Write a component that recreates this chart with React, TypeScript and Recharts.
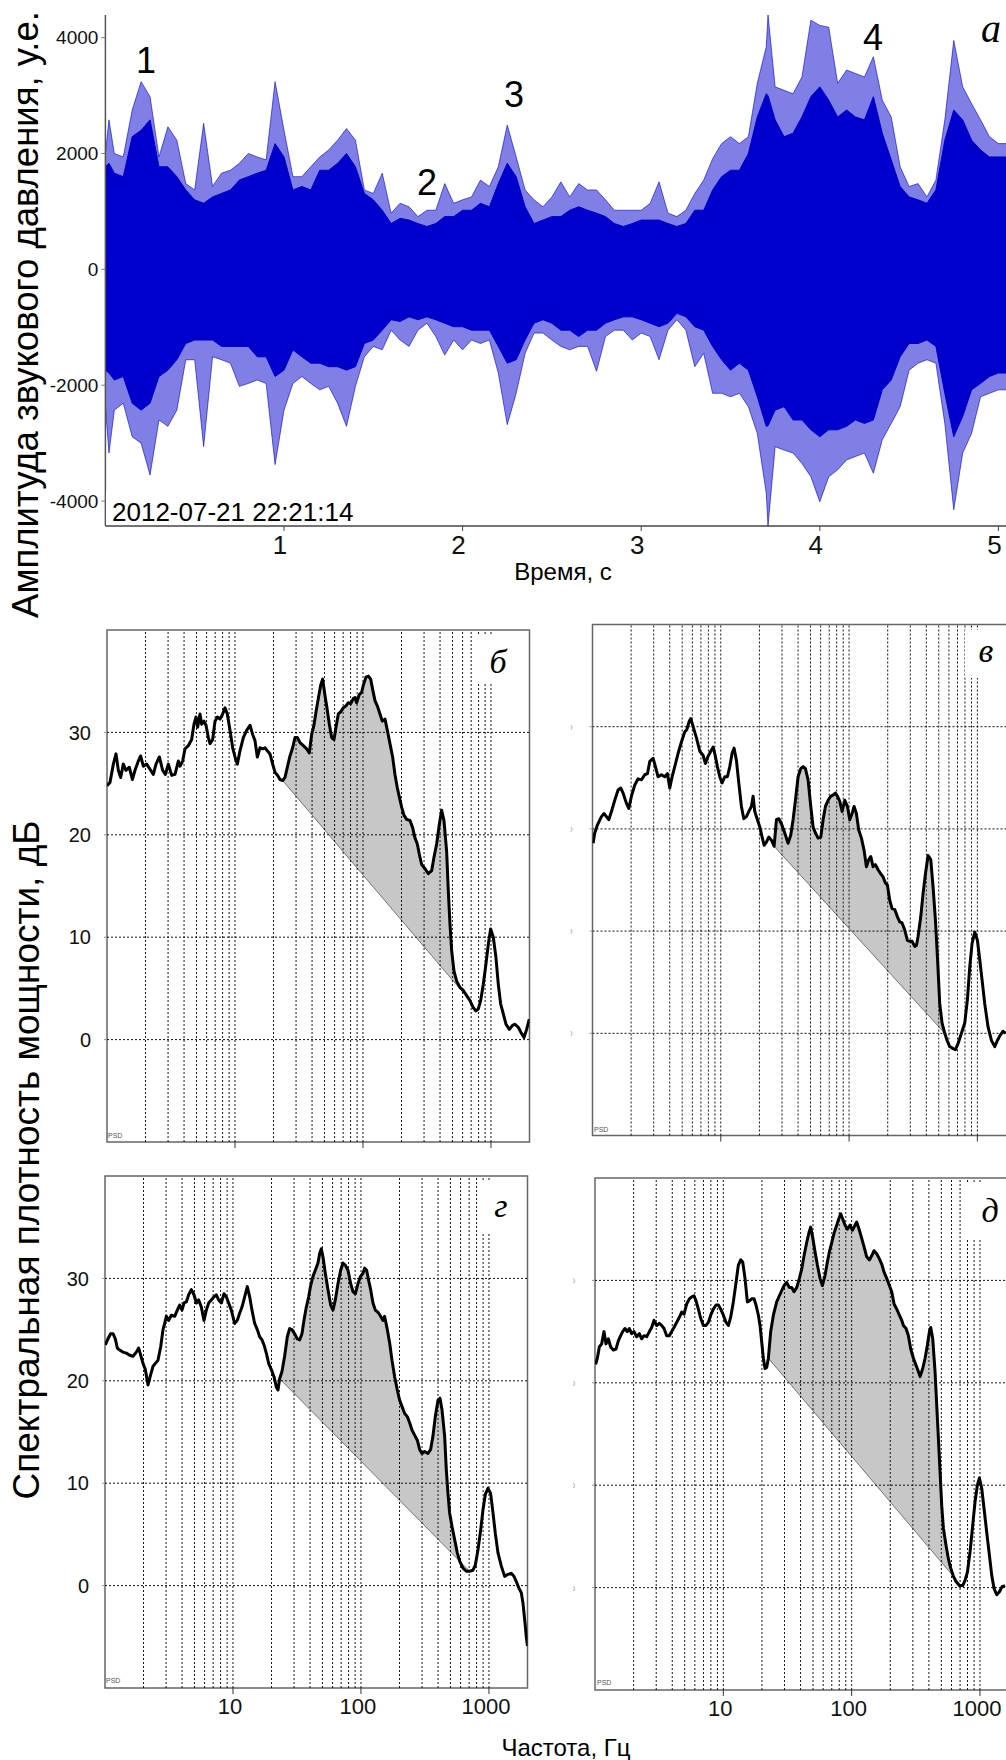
import React from 'react';
import { ComposedChart, Area, Line, XAxis, YAxis, ReferenceLine, ReferenceArea } from 'recharts';

// ---------- Panel а: waveform envelope (time, s) ----------
const timeS = [
  0, 0.02, 0.05, 0.1, 0.15, 0.2, 0.25, 0.3, 0.35, 0.4,
  0.45, 0.5, 0.55, 0.6, 0.65, 0.7, 0.75, 0.8, 0.85, 0.9,
  0.95, 1.0, 1.05, 1.1, 1.15, 1.2, 1.25, 1.3, 1.35, 1.4,
  1.45, 1.5, 1.55, 1.6, 1.65, 1.7, 1.75, 1.8, 1.85, 1.9,
  1.95, 2.0, 2.05, 2.1, 2.15, 2.2, 2.25, 2.3, 2.35, 2.4,
  2.45, 2.5, 2.55, 2.6, 2.65, 2.7, 2.75, 2.8, 2.85, 2.9,
  2.95, 3.0, 3.05, 3.1, 3.15, 3.2, 3.25, 3.3, 3.35, 3.4,
  3.45, 3.5, 3.55, 3.6, 3.65, 3.7, 3.71, 3.75, 3.8, 3.85,
  3.9, 3.95, 4.0, 4.05, 4.1, 4.15, 4.2, 4.25, 4.3, 4.35,
  4.4, 4.45, 4.5, 4.55, 4.6, 4.65, 4.7, 4.75, 4.8, 4.85,
  4.9, 4.95, 5.0, 5.05,
];
const spikeHigh = [
  2000, 2580, 2000, 1940, 2750, 3240, 2980, 1940, 2460, 2230,
  1480, 1370, 2520, 1430, 1660, 1710, 1830, 2000, 1940, 1890,
  3240, 2400, 1600, 1600, 1770, 1940, 2060, 2230, 2430, 2230,
  1370, 1310, 1660, 970, 1140, 1080, 910, 1020, 1020, 1480,
  1140, 1200, 1250, 1540, 1430, 1770, 2490, 1940, 1370, 1200,
  1080, 1250, 1510, 1250, 1480, 1370, 1370, 1200, 1020, 1020,
  1020, 1020, 1140, 1510, 970, 910, 1020, 1310, 1540, 1910,
  2170, 2290, 2170, 2290, 3210, 3840, 4390, 3150, 3090, 3030,
  3320, 4300, 4210, 4180, 3210, 3440, 3380, 3320, 3670, 2920,
  2630, 1770, 1430, 1480, 1250, 1540, 2580, 3950, 3150, 2860,
  2580, 2290, 2170, 2170,
];
const coreHigh = [
  1770, 1830, 1660, 1600, 2290, 2400, 2580, 1770, 1770, 1600,
  1370, 1200, 1140, 1250, 1310, 1370, 1540, 1600, 1660, 1710,
  2170, 1940, 1370, 1430, 1370, 1710, 1710, 1830, 2000, 1770,
  1310, 1200, 1020, 790, 880, 850, 790, 740, 790, 910,
  910, 1020, 1020, 1140, 1080, 1480, 1830, 1600, 1080, 790,
  850, 910, 910, 1020, 1080, 1020, 970, 910, 790, 740,
  790, 850, 850, 850, 790, 740, 790, 1020, 1020, 1370,
  1600, 1710, 1710, 2000, 2630, 3030, 3000, 2580, 2290, 2350,
  2630, 2980, 3150, 2920, 2630, 2750, 2630, 2580, 2980, 2350,
  1890, 1430, 1250, 1200, 1140, 1370, 2230, 2750, 2580, 2230,
  2060, 1940, 1940, 1940,
];
const coreLow = [
  -1740, -1790, -1910, -1850, -2310, -2430, -2310, -1850, -1740, -1560,
  -1280, -1220, -1220, -1220, -1330, -1330, -1330, -1330, -1510, -1510,
  -1850, -1740, -1390, -1510, -1620, -1620, -1680, -1680, -1740, -1680,
  -1280, -1220, -1050, -870, -900, -820, -870, -820, -870, -930,
  -990, -990, -1050, -1050, -1050, -1330, -1620, -1560, -1220, -930,
  -870, -930, -1050, -1050, -1160, -1050, -1050, -930, -870, -820,
  -820, -870, -930, -990, -930, -760, -820, -990, -1050, -1330,
  -1560, -1740, -1620, -1740, -2200, -2710, -2700, -2430, -2370, -2600,
  -2600, -2770, -2890, -2770, -2770, -2710, -2600, -2660, -2600, -2080,
  -1910, -1510, -1280, -1280, -1220, -1330, -2140, -2890, -2540, -2080,
  -1970, -1850, -1790, -1790,
];
const spikeLow = [
  -2370, -3170, -2430, -2310, -2890, -3000, -3550, -2600, -2710, -2430,
  -1560, -1560, -3060, -1510, -1560, -1620, -2020, -1970, -1910, -1970,
  -3370, -2430, -1970, -1850, -1970, -2080, -2020, -2310, -2710, -2020,
  -1510, -1330, -1390, -1050, -1220, -1330, -1050, -930, -1160, -1480,
  -1220, -1390, -1220, -1280, -1220, -1790, -2680, -2140, -1450, -1100,
  -1100, -1220, -1330, -1390, -1330, -1330, -1760, -1160, -1050, -1050,
  -1220, -1100, -1160, -1560, -1050, -870, -1050, -1680, -1450, -2140,
  -2140, -2200, -2140, -2370, -2830, -3860, -4430, -3060, -3120, -3170,
  -3350, -3580, -4010, -3580, -3460, -3290, -3230, -3170, -3520, -2940,
  -2660, -2370, -1740, -1620, -1560, -1620, -2660, -4150, -3170, -2830,
  -2200, -2140, -2080, -2080,
];
const timeTicks = [1, 2, 3, 4, 5];
const ampTicks = [-4000, -2000, 0, 2000, 4000];

// ---------- PSD panels (frequency Hz, dB) ----------
const freqB = [
  1.0, 1.055, 1.121, 1.176, 1.226, 1.279, 1.341, 1.407, 1.494, 1.578,
  1.655, 1.757, 1.832, 1.922, 2.041, 2.168, 2.301, 2.415, 2.564, 2.722,
  2.856, 3.015, 3.2, 3.399, 3.608, 3.718, 3.901, 4.069, 4.319, 4.586,
  4.783, 4.958, 5.108, 5.328, 5.49, 5.725, 5.935, 6.19, 6.378, 6.69,
  6.98, 7.28, 7.64, 8.01, 8.35, 8.71, 9.14, 9.59, 10.0, 10.43,
  10.94, 11.62, 12.34, 13.1, 13.74, 14.33, 14.95, 15.68, 16.45, 17.16,
  17.89, 18.77, 19.7, 20.54, 21.54, 22.47, 23.58, 24.59, 25.64, 26.9,
  28.21, 29.43, 30.69, 32.19, 34.19, 36.31, 38.08, 39.72, 41.42, 42.94,
  44.77, 46.7, 48.41, 50.48, 52.02, 54.58, 56.92, 59.35, 61.53, 64.17,
  66.92, 70.2, 73.7, 76.8, 80.1, 84.0, 86.6, 89.2, 93.6, 97.6,
  100.6, 105.5, 110.1, 114.8, 119.0, 124.1, 129.4, 135.8, 141.6, 148.6,
  155.0, 162.5, 170.5, 177.8, 185.4, 192.2, 200.5, 209.1, 219.4, 232.9,
  244.3, 254.8, 265.7, 275.5, 287.3, 305.1, 324.0, 344.0, 358.7, 376.3,
  394.8, 411.7, 429.3, 450.4, 464.2, 478.3, 492.8, 513.9, 539.2, 572.5,
  608.0, 645.6, 685.5, 727.8, 763.5, 796.2, 830.5, 871.0, 913.9, 953.3,
  994, 1043, 1094, 1141, 1190, 1249, 1310, 1391, 1477, 1540,
  1635, 1716, 1811, 1900, 1993,
];
const dbB = [
  24.8, 25.1, 26.9, 27.9, 26.3, 25.6, 26.9, 26.3, 26.6, 25.4,
  26.3, 27.2, 27.7, 26.7, 26.9, 26.4, 25.9, 26.9, 27.6, 26.3,
  25.9, 26.9, 25.8, 25.9, 27.2, 26.7, 27.2, 28.4, 28.7, 29.3,
  30.8, 31.5, 30.5, 31.8, 30.8, 31.1, 30.7, 29.5, 28.9, 29.3,
  31.1, 31.5, 31.3, 31.8, 32.4, 31.8, 30.2, 28.5, 27.6, 26.9,
  28.2, 29.5, 30.2, 30.7, 29.8, 29.2, 27.6, 28.5, 28.4, 28.5,
  28.2, 27.9, 26.9, 26.1, 25.8, 25.4, 25.3, 25.6, 26.6, 27.7,
  28.5, 29.5, 29.5, 29.0, 28.7, 28.4, 28.0, 29.8, 30.7, 32.0,
  33.3, 34.6, 35.2, 33.6, 32.6, 30.8, 29.5, 29.3, 30.5, 31.8,
  32.0, 32.4, 32.6, 32.9, 32.8, 33.3, 33.4, 32.9, 33.7, 33.9,
  34.6, 35.4, 35.5, 35.2, 34.2, 33.1, 32.6, 31.8, 31.1, 31.3,
  30.2, 28.9, 27.6, 25.9, 24.6, 23.7, 22.7, 21.9, 21.5, 21.4,
  20.7, 19.7, 19.1, 18.1, 17.1, 16.7, 16.2, 16.5, 17.8, 19.1,
  21.0, 22.4, 21.4, 18.4, 14.5, 11.3, 8.7, 6.7, 5.7, 5.1,
  4.8, 4.3, 3.8, 3.1, 2.8, 3.0, 3.8, 5.4, 7.4, 9.3,
  10.8, 10.0, 8.0, 5.4, 3.5, 2.5, 1.5, 1.0, 1.4, 1.5,
  1.2, 0.7, 0.2, 1.0, 2.0,
];
const freqV = [
  1.011, 1.041, 1.093, 1.174, 1.231, 1.284, 1.339, 1.405, 1.491, 1.583,
  1.661, 1.732, 1.839, 1.918, 2.012, 2.136, 2.267, 2.406, 2.555, 2.681,
  2.796, 2.968, 3.094, 3.245, 3.445, 3.659, 3.838, 4.003, 4.173, 4.377,
  4.648, 4.934, 5.239, 5.43, 5.663, 5.835, 6.085, 6.459, 6.857, 7.28,
  7.59, 7.96, 8.35, 8.71, 8.97, 9.41, 9.82, 10.24, 10.74, 11.26,
  11.75, 12.25, 12.7, 13.24, 13.81, 14.48, 15.11, 15.84, 16.52, 17.34,
  17.86, 18.4, 19.3, 20.13, 20.99, 21.76, 22.69, 23.66, 24.82, 26.03,
  27.15, 28.3, 29.7, 31.52, 33.46, 35.11, 36.61, 38.18, 40.05, 42.02,
  43.81, 45.68, 47.92, 50.27, 52.42, 54.68, 57.36, 60.17, 62.73, 65.41,
  68.62, 71.98, 75.07, 78.28, 81.13, 84.6, 88.22, 92.54, 97.1, 101.2,
  105.5, 109.4, 114.0, 118.9, 124.8, 130.9, 136.5, 142.3, 147.6, 153.8,
  160.4, 168.3, 176.6, 184.1, 192.0, 199.0, 207.5, 216.4, 227.0, 238.1,
  248.3, 258.9, 271.6, 284.9, 297.1, 309.8, 325.0, 334.9, 345.1, 361.9,
  377.4, 393.6, 412.9, 433.1, 451.6, 470.9, 488.1, 508.9, 530.7, 556.7,
  584.0, 609.0, 646.5, 674.3, 707.4, 750.9, 797.1, 836.2, 872.0, 909.4,
  954.1, 1000.7, 1043.5, 1088, 1141, 1212, 1287, 1366, 1433, 1503,
  1587, 1655,
];
const dbV = [
  18.6, 19.6, 20.4, 21.2, 21.5, 21.2, 20.9, 21.7, 22.8, 23.8,
  24.0, 23.5, 22.5, 22.0, 23.2, 24.3, 24.9, 24.8, 25.3, 25.4,
  26.6, 26.9, 26.1, 25.1, 25.3, 25.1, 25.4, 24.0, 25.1, 26.1,
  27.4, 28.5, 29.5, 29.7, 30.5, 30.8, 30.0, 28.9, 27.6, 27.2,
  26.4, 27.1, 27.6, 28.0, 27.4, 26.1, 25.1, 24.5, 25.1, 25.1,
  26.1, 27.4, 27.9, 26.7, 24.5, 22.2, 21.0, 21.2, 21.7, 22.2,
  23.2, 21.7, 20.9, 20.2, 19.2, 18.4, 18.7, 19.2, 18.9, 18.3,
  20.9, 21.0, 20.5, 19.6, 18.6, 19.4, 20.9, 22.8, 25.1, 25.9,
  26.1, 25.9, 24.8, 22.2, 20.2, 19.6, 19.1, 19.2, 20.9, 22.2,
  22.8, 23.2, 23.3, 23.5, 23.2, 22.7, 21.7, 22.8, 22.2, 20.9,
  21.5, 22.2, 21.5, 19.9, 19.1, 17.9, 16.3, 17.0, 17.3, 16.3,
  16.5, 16.0, 15.6, 15.3, 14.7, 14.5, 13.0, 12.2, 12.1, 11.4,
  10.9, 10.8, 10.1, 9.1, 9.0, 9.0, 8.5, 8.6, 9.5, 11.4,
  13.7, 15.6, 17.4, 17.0, 14.3, 11.1, 7.5, 2.9, 1.0, 0.0,
  -0.8, -1.3, -1.5, -1.6, -1.0, 0.0, 1.0, 3.3, 6.5, 8.8,
  9.9, 9.1, 7.2, 5.2, 2.9, 0.6, -0.7, -1.3, -0.7, -0.2,
  0.2, 0.0,
];
const freqG = [
  1.006, 1.055, 1.107, 1.155, 1.204, 1.248, 1.302, 1.382, 1.468, 1.559,
  1.655, 1.757, 1.832, 1.899, 1.981, 2.066, 2.168, 2.275, 2.371, 2.473,
  2.594, 2.722, 2.839, 2.925, 3.015, 3.144, 3.298, 3.502, 3.674, 3.831,
  3.996, 4.142, 4.319, 4.505, 4.726, 4.958, 5.171, 5.393, 5.657, 5.935,
  6.19, 6.455, 6.772, 7.105, 7.409, 7.727, 8.106, 8.504, 8.869, 9.25,
  9.705, 10.3, 10.81, 11.27, 11.76, 12.34, 12.94, 13.5, 14.07, 14.77,
  15.49, 16.16, 16.85, 17.47, 18.21, 19.0, 19.93, 20.91, 21.81, 22.47,
  23.15, 24.14, 25.32, 26.57, 27.71, 28.9, 30.32, 31.8, 33.17, 34.6,
  35.86, 37.41, 39.01, 40.45, 42.17, 43.98, 46.14, 47.54, 48.98, 50.48,
  52.64, 55.24, 57.94, 60.42, 63.03, 66.13, 69.37, 72.34, 75.44, 79.14,
  83.04, 86.6, 90.31, 94.76, 99.4, 103.66, 106.8, 110.7, 114.8, 119.0,
  124.1, 129.4, 135.8, 142.4, 148.6, 153.0, 160.6, 167.5, 174.7, 183.2,
  192.2, 200.5, 209.1, 219.4, 230.1, 240.0, 250.3, 262.6, 275.5, 287.3,
  299.6, 314.3, 333.7, 350.1, 365.1, 380.8, 399.6, 414.2, 429.3, 450.4,
  464.2, 478.3, 492.8, 513.9, 539.2, 565.7, 590.0, 626.6, 665.3, 706.3,
  749.9, 782.0, 820.5, 860.9, 897.8, 936.3, 982.2, 1030, 1075, 1121,
  1176, 1249, 1326, 1407, 1494, 1568, 1635, 1706, 1789, 1843,
  1900, 1958, 2000,
];
const dbG = [
  23.5, 24.1, 24.6, 24.6, 24.1, 23.2, 23.0, 22.8, 22.7, 22.5,
  22.4, 22.8, 23.2, 22.5, 21.7, 21.1, 19.6, 20.6, 21.4, 21.7,
  22.0, 23.3, 25.0, 25.6, 26.3, 25.9, 26.4, 26.3, 26.9, 27.4,
  26.9, 27.6, 27.7, 28.4, 28.9, 28.4, 27.6, 27.9, 27.2, 25.9,
  26.9, 27.6, 27.9, 28.2, 28.4, 27.9, 27.6, 28.5, 28.2, 27.6,
  26.9, 25.6, 25.9, 26.6, 27.2, 28.2, 29.2, 28.2, 26.9, 25.6,
  25.0, 24.3, 24.0, 23.5, 22.7, 21.7, 21.1, 20.4, 19.4, 19.1,
  20.2, 20.9, 22.4, 24.3, 25.1, 25.0, 24.6, 24.1, 24.0, 24.6,
  25.9, 27.2, 28.2, 29.3, 30.2, 30.8, 31.5, 32.4, 32.9, 32.1,
  30.5, 28.9, 27.4, 26.9, 27.9, 29.5, 30.8, 31.5, 31.3, 30.8,
  29.5, 28.7, 28.5, 29.5, 30.2, 30.5, 31.0, 30.8, 29.8, 28.9,
  27.6, 26.9, 26.7, 26.3, 25.9, 26.3, 25.0, 23.7, 22.0, 20.4,
  19.1, 18.1, 17.5, 16.8, 16.5, 15.9, 15.2, 14.7, 14.2, 13.3,
  12.9, 13.1, 12.9, 13.3, 14.6, 16.5, 18.1, 18.3, 17.2, 14.6,
  11.3, 9.0, 7.1, 5.8, 4.5, 3.2, 2.4, 1.7, 1.4, 1.4,
  1.5, 2.0, 3.5, 5.4, 7.4, 8.9, 9.5, 9.0, 7.1, 5.1,
  3.2, 1.9, 0.9, 1.1, 1.2, 0.9, 0.4, -0.2, -0.7, -1.7,
  -3.3, -5.0, -5.9,
];
const freqD = [
  1.012, 1.043, 1.081, 1.127, 1.175, 1.218, 1.27, 1.325, 1.39, 1.458,
  1.52, 1.585, 1.643, 1.713, 1.786, 1.852, 1.931, 2.014, 2.112, 2.216,
  2.311, 2.41, 2.527, 2.652, 2.765, 2.884, 3.025, 3.173, 3.308, 3.45,
  3.619, 3.796, 3.958, 4.128, 4.331, 4.543, 4.738, 4.94, 5.182, 5.437,
  5.668, 5.911, 6.127, 6.39, 6.664, 6.991, 7.334, 7.647, 7.974, 8.365,
  8.775, 9.148, 9.539, 10.01, 10.5, 10.95, 11.41, 11.97, 12.56, 13.1,
  13.66, 14.16, 14.76, 15.39, 15.96, 16.64, 17.35, 17.98, 18.76, 19.32,
  19.91, 20.51, 21.13, 21.78, 22.44, 23.4, 24.55, 26.06, 27.34, 28.51,
  29.73, 31.19, 32.72, 34.12, 35.57, 37.32, 39.15, 40.81, 42.56, 44.65,
  46.56, 47.97, 49.73, 51.85, 54.07, 56.72, 59.14, 62.04, 64.7, 67.07,
  69.93, 72.92, 76.49, 79.29, 82.18, 85.19, 88.83, 92.62, 97.17, 101.3,
  106.3, 109.5, 114.9, 119.8, 124.9, 131.0, 137.5, 143.3, 149.5, 156.8,
  164.5, 171.5, 178.9, 187.6, 196.8, 205.3, 214.1, 224.6, 235.5, 245.6,
  253.1, 265.5, 276.9, 288.7, 302.9, 317.7, 331.3, 341.4, 358.1, 373.4,
  389.4, 403.6, 413.4, 428.5, 446.7, 460.3, 474.3, 488.7, 503.5, 518.8,
  544.2, 567.5, 591.8, 620.8, 651.2, 691.3, 733.9, 765.3, 798.0, 837.1,
  878.1, 915.7, 955.0, 989.9, 1032, 1076, 1129, 1184, 1235, 1288,
  1351, 1418, 1487, 1569,
];
const dbD = [
  21.8, 22.4, 23.5, 23.8, 25.0, 23.8, 24.3, 23.5, 23.2, 23.3,
  24.1, 24.6, 25.0, 25.3, 25.0, 25.3, 24.8, 25.0, 24.5, 24.8,
  24.3, 24.6, 24.5, 25.0, 25.4, 26.1, 25.6, 25.8, 25.6, 25.3,
  24.6, 24.6, 25.0, 25.4, 25.9, 26.4, 26.9, 26.7, 27.7, 28.2,
  28.4, 28.5, 28.0, 27.2, 26.3, 25.6, 25.6, 25.9, 26.6, 27.2,
  27.6, 27.6, 27.2, 26.6, 25.9, 25.6, 26.4, 27.9, 29.8, 31.5,
  32.0, 31.8, 30.2, 27.9, 28.0, 28.2, 28.2, 27.6, 26.6, 25.6,
  24.0, 22.4, 21.4, 21.5, 22.4, 25.0, 26.6, 27.9, 28.5, 29.0,
  29.5, 29.8, 29.3, 29.3, 28.9, 29.3, 30.2, 31.1, 32.4, 33.7,
  34.7, 35.2, 34.2, 32.8, 31.5, 30.2, 29.5, 30.5, 31.8, 32.8,
  33.7, 34.6, 35.4, 36.0, 36.5, 36.0, 35.4, 35.0, 35.4, 34.9,
  35.4, 35.7, 34.9, 34.1, 33.3, 32.3, 32.0, 32.4, 32.9, 32.6,
  32.1, 31.6, 30.8, 30.2, 29.5, 28.9, 27.7, 27.2, 26.6, 26.1,
  25.6, 25.3, 24.6, 23.3, 22.4, 21.7, 21.1, 20.6, 21.4, 22.4,
  23.7, 25.0, 25.4, 24.3, 21.1, 17.8, 14.6, 11.3, 8.0, 5.8,
  4.1, 2.8, 1.9, 1.1, 0.6, 0.2, 0.2, 0.7, 1.5, 3.5,
  6.1, 8.4, 10.0, 10.7, 9.7, 7.7, 5.4, 3.2, 1.2, -0.1,
  -0.7, -0.4, 0.1, 0.2,
];
// chord end points (Hz) of the shaded region, taken on each curve
const chordB = [23.58, 685.5];
const chordV = [26.03, 556.7];
const chordG = [23.15, 706.3];
const chordD = [22.44, 620.8];

const freqTicks = [10, 100, 1000];
const dbTicks = [0, 10, 20, 30];
const freqGrid = [2, 3, 4, 5, 6, 7, 8, 9, 10, 20, 30, 40, 50, 60, 70, 80, 90, 100, 200, 300, 400, 500, 600, 700, 800, 900, 1000];

const SANS = '"Liberation Sans", Arial, Helvetica, sans-serif';
const SERIF = '"Liberation Serif", "Times New Roman", serif';
const BLUE = '#0000cc';

const waveRows = timeS.map((t, i) => ({
  t,
  spike: [spikeLow[i], spikeHigh[i]],
  core: [coreLow[i], coreHigh[i]],
}));

function buildRows(freqs: number[], dbs: number[], chord: number[]) {
  const i0 = freqs.indexOf(chord[0]);
  const i1 = freqs.indexOf(chord[1]);
  const l0 = Math.log10(freqs[i0]);
  const l1 = Math.log10(freqs[i1]);
  const d0 = dbs[i0];
  const d1 = dbs[i1];
  return freqs.map((f, i) => ({
    f,
    db: dbs[i],
    band: i >= i0 && i <= i1 ? [d0 + ((d1 - d0) * (Math.log10(f) - l0)) / (l1 - l0), dbs[i]] : null,
  }));
}

const EmptyTick = () => <g />;
const CutTick = (p: any) => (
  <text x={p.x - 6} y={p.y + 2} fontSize={6} fill="#777" fontFamily={SANS}>)</text>
);

type PanelProps = {
  left: number; top: number; yw: number; mt: number; pw: number; ph: number;
  freqs: number[]; dbs: number[]; chord: number[]; showX: boolean; showY: boolean;
};

function PsdPanel({ left, top, yw, mt, pw, ph, freqs, dbs, chord, showX, showY }: PanelProps) {
  const rows = buildRows(freqs, dbs, chord);
  return (
    <div style={{ position: 'absolute', left, top }}>
      <ComposedChart width={yw + pw + 10} height={mt + ph + 44} data={rows} margin={{ top: mt, right: 10, bottom: 0, left: 0 }}>
        <XAxis
          dataKey="f" type="number" scale="log" domain={[1, 2000]} ticks={freqTicks} allowDataOverflow
          height={44} axisLine={false} tickSize={6} tickLine={{ stroke: '#333' }} tickMargin={4}
          tick={showX ? { fontSize: 22, fill: '#111', fontFamily: SANS, dx: -3 } : EmptyTick}
        />
        <YAxis
          type="number" domain={[-10, 40]} ticks={dbTicks} allowDataOverflow width={yw}
          axisLine={false} tickSize={3} tickLine={{ stroke: '#999' }} tickMargin={13}
          tick={showY ? { fontSize: 20, fill: '#111', fontFamily: SANS } : CutTick}
        />
        {freqGrid.map((g) => (
          <ReferenceLine key={'v' + g} x={g} stroke="#111" strokeDasharray="2 2" strokeWidth={1} />
        ))}
        {dbTicks.map((g) => (
          <ReferenceLine key={'h' + g} y={g} stroke="#111" strokeDasharray="2 2" strokeWidth={1} />
        ))}
        <Area dataKey="band" type="linear" fill="#999" fillOpacity={0.55} stroke="#555" strokeWidth={0.8} isAnimationActive={false} />
        <Line dataKey="db" type="linear" stroke="#000" strokeWidth={3} strokeLinejoin="round" dot={false} isAnimationActive={false} />
        <ReferenceArea x1={1} x2={2000} y1={-10} y2={40} fill="none" stroke="#666" strokeWidth={1.5} ifOverflow="visible" />
      </ComposedChart>
    </div>
  );
}

export default function App() {
  return (
    <div style={{ position: 'absolute', left: 0, top: 0, width: 1006, height: 1760, overflow: 'hidden', background: '#fff', fontFamily: SANS }}>
      <div style={{ position: 'absolute', left: 0, top: 0 }}>
        <ComposedChart width={1020} height={590} data={waveRows} margin={{ top: 15, right: 3.74, bottom: 0, left: 0 }}>
          <XAxis
            dataKey="t" type="number" domain={[0, 5.1]} ticks={timeTicks} allowDataOverflow height={64}
            axisLine={{ stroke: '#444', strokeWidth: 1.5 }} tickSize={5} tickLine={{ stroke: '#444' }} tickMargin={5}
            tick={{ fontSize: 26, fill: '#111', fontFamily: SANS, dx: -4 }}
          />
          <XAxis xAxisId="top" orientation="top" type="number" domain={[0, 5.1]} height={0} tick={false} tickLine={false} axisLine={{ stroke: '#999', strokeWidth: 1.5 }} />
          <YAxis
            type="number" domain={[-4430, 4390]} ticks={ampTicks} allowDataOverflow width={105.4}
            axisLine={{ stroke: '#555', strokeWidth: 1.5 }} tickSize={4} tickLine={{ stroke: '#777' }} tickMargin={3}
            tick={{ fontSize: 19, fill: '#111', fontFamily: SANS }}
          />
          <Area dataKey="spike" type="linear" fill={BLUE} fillOpacity={0.5} stroke={BLUE} strokeOpacity={0.6} strokeWidth={1} isAnimationActive={false} />
          <Area dataKey="core" type="linear" fill={BLUE} fillOpacity={1} stroke={BLUE} strokeWidth={1} isAnimationActive={false} />
        </ComposedChart>
      </div>

      <PsdPanel left={0} top={600} yw={107} mt={30} pw={422.5} ph={512} freqs={freqB} dbs={dbB} chord={chordB} showX={false} showY={true} />
      <PsdPanel left={500} top={600} yw={92.5} mt={24.5} pw={423.5} ph={511} freqs={freqV} dbs={dbV} chord={chordV} showX={false} showY={false} />
      <PsdPanel left={0} top={1150} yw={105} mt={26} pw={422.5} ph={512} freqs={freqG} dbs={dbG} chord={chordG} showX={true} showY={true} />
      <PsdPanel left={500} top={1150} yw={95} mt={28} pw={423.6} ph={512} freqs={freqD} dbs={dbD} chord={chordD} showX={true} showY={false} />

      <svg width={1006} height={1760} style={{ position: 'absolute', left: 0, top: 0, pointerEvents: 'none' }}>
        {/* panel а annotations */}
        <text x={146} y={73} fontSize={36} textAnchor="middle" fontFamily={SANS} fill="#000">1</text>
        <text x={427} y={195} fontSize={36} textAnchor="middle" fontFamily={SANS} fill="#000">2</text>
        <text x={514} y={107} fontSize={36} textAnchor="middle" fontFamily={SANS} fill="#000">3</text>
        <text x={873} y={50} fontSize={36} textAnchor="middle" fontFamily={SANS} fill="#000">4</text>
        <text x={991} y={42} fontSize={40} textAnchor="middle" fontFamily={SERIF} fontStyle="italic" fill="#000">а</text>
        <rect x={106} y={491} width={256} height={34} fill="#fff" />
        <text x={112} y={521} fontSize={26} fontFamily={SANS} fill="#000">2012-07-21 22:21:14</text>
        <text x={563} y={580} fontSize={24} textAnchor="middle" fontFamily={SANS} fill="#000">Время, с</text>

        {/* big axis titles */}
        <text transform="translate(38,314.5) rotate(-90)" fontSize={36.5} textAnchor="middle" fontFamily={SANS} fill="#000">Амплитуда звукового давления, у.е.</text>
        <text transform="translate(39,1160) rotate(-90)" fontSize={37} textAnchor="middle" fontFamily={SANS} fill="#000">Спектральная плотность мощности, дБ</text>
        <text x={566} y={1756} fontSize={24} textAnchor="middle" fontFamily={SANS} fill="#000">Частота, Гц</text>

        {/* panel letters */}
        <rect x={478} y={636} width={47} height={48} fill="#fff" />
        <text x={498} y={673} fontSize={34} textAnchor="middle" fontFamily={SERIF} fontStyle="italic" fill="#000">б</text>
        <rect x={965} y={630} width={41} height={48} fill="#fff" />
        <text x={986} y={662} fontSize={34} textAnchor="middle" fontFamily={SERIF} fontStyle="italic" fill="#000">в</text>
        <rect x={478} y={1180} width={47} height={52} fill="#fff" />
        <text x={501} y={1217} fontSize={34} textAnchor="middle" fontFamily={SERIF} fontStyle="italic" fill="#000">г</text>
        <rect x={965} y={1182} width={41} height={56} fill="#fff" />
        <text x={990} y={1222} fontSize={34} textAnchor="middle" fontFamily={SERIF} fontStyle="italic" fill="#000">д</text>

        {/* PSD tags */}
        <text x={108} y={1138} fontSize={7} fontFamily={SANS} fill="#555">PSD</text>
        <text x={594} y={1132} fontSize={7} fontFamily={SANS} fill="#555">PSD</text>
        <text x={106} y={1683} fontSize={7} fontFamily={SANS} fill="#555">PSD</text>
        <text x={597} y={1685} fontSize={7} fontFamily={SANS} fill="#555">PSD</text>
      </svg>
    </div>
  );
}
